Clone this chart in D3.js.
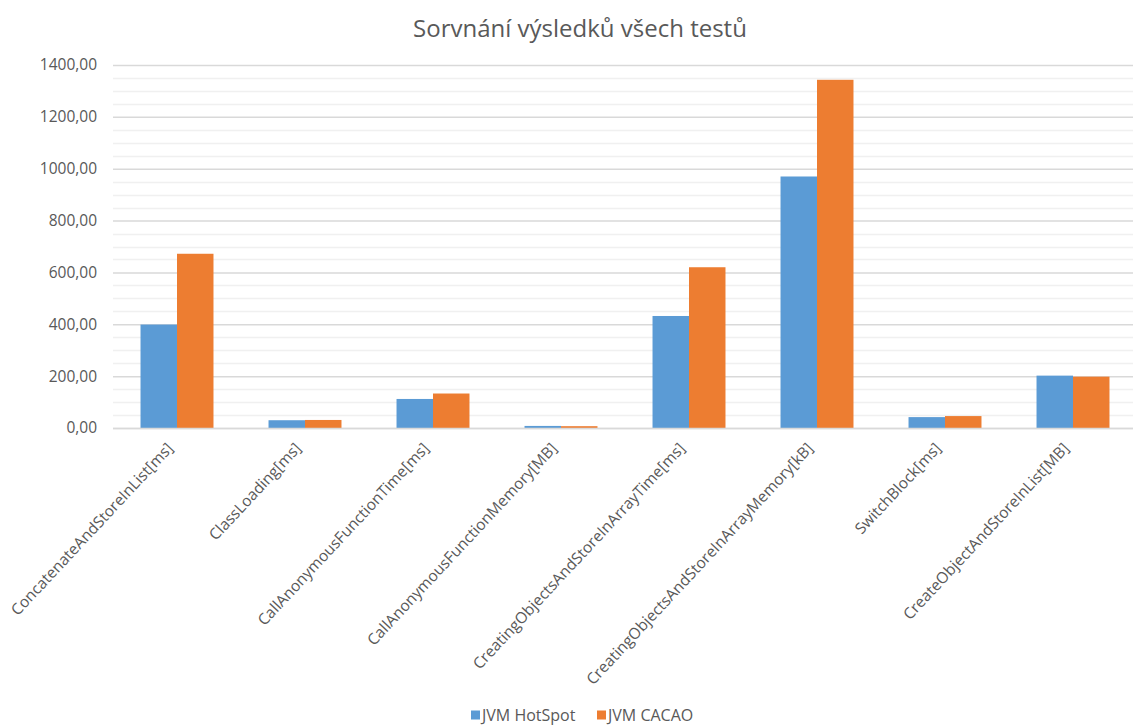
<!DOCTYPE html>
<html><head><meta charset="utf-8">
<script src="https://cdn.jsdelivr.net/npm/d3@7"></script>
<style>body{margin:0;background:#fff;} svg{display:block;}</style>
</head><body>
<svg id="c" width="1133" height="727"></svg>
<script>
const categories = [
  "ConcatenateAndStoreInList[ms]",
  "ClassLoading[ms]",
  "CallAnonymousFunctionTime[ms]",
  "CallAnonymousFunctionMemory[MB]",
  "CreatingObjectsAndStoreInArrayTime[ms]",
  "CreatingObjectsAndStoreInArrayMemory[kB]",
  "SwitchBlock[ms]",
  "CreateObjectAndStoreInList[MB]"
];
const seriesNames = ["JVM HotSpot", "JVM CACAO"];
const hotspot = [399, 30, 112, 8, 432, 970, 42, 202];
const cacao   = [672, 31, 133, 7, 620, 1343, 46, 198];
const yTicks = [0, 200, 400, 600, 800, 1000, 1200, 1400];
const colors = ["#5b9bd5", "#ed7d31"];
const title = "Sorvnání výsledků všech testů";

(function(){
const svg = d3.select("#c");
const font = "'Open Sans', 'Liberation Sans', sans-serif";
const pLeft = 113, pRight = 1137, pTop = 65, pBottom = 428;

const x = d3.scaleBand().domain(categories).range([pLeft, pRight]);
const y = d3.scaleLinear().domain([0, 1400]).range([pBottom, pTop]);
const barW = x.bandwidth() * 0.285;

// minor gridlines
const minor = d3.range(50, 1400, 50).filter(v => v % 200 !== 0);
svg.append("g").selectAll("line").data(minor).join("line")
  .attr("x1", pLeft).attr("x2", pRight)
  .attr("y1", d => Math.round(y(d)) + 0.5).attr("y2", d => Math.round(y(d)) + 0.5)
  .attr("stroke", "#f0f0f0").attr("stroke-width", 1.5);

// major gridlines via axis
const yAxis = d3.axisLeft(y).tickValues(yTicks).tickSize(-(pRight - pLeft))
  .tickFormat(d => d3.format(".2f")(d).replace(".", ","));
const gy = svg.append("g").attr("transform", `translate(${pLeft},0)`).call(yAxis);
gy.select(".domain").remove();
gy.selectAll(".tick line").attr("stroke", "#d9d9d9").attr("stroke-width", 1.5);
gy.selectAll(".tick text").attr("x", -16).attr("fill", "#595959")
  .style("font-family", font).style("font-size", "15.5px");

// bars
const g = svg.append("g");
categories.forEach((c, i) => {
  const cx = x(c) + x.bandwidth() / 2;
  [hotspot[i], cacao[i]].forEach((v, j) => {
    g.append("rect")
      .attr("x", cx - barW + j * barW)
      .attr("y", y(v))
      .attr("width", barW)
      .attr("height", y(0) - y(v))
      .attr("fill", colors[j]);
  });
});

// x axis
const xAxis = d3.axisBottom(x).tickSize(0).tickPadding(0);
const gx = svg.append("g").attr("transform", `translate(0,${pBottom})`).call(xAxis);
gx.select(".domain").attr("stroke", "#d9d9d9").attr("stroke-width", 1.5)
  .attr("d", `M${pLeft},0.5H${pRight}`);
gx.selectAll(".tick text")
  .attr("text-anchor", "end")
  .attr("fill", "#595959")
  .style("font-family", font).style("font-size", "15.5px")
  .attr("y", 0).attr("dy", "0")
  .attr("transform", "translate(-3,21) rotate(-47)");

// title
svg.append("text").attr("x", 580).attr("y", 37).attr("text-anchor", "middle")
  .attr("fill", "#595959").style("font-family", font).style("font-size", "24px")
  .text(title);

// legend
const lg = svg.append("g").attr("transform", "translate(471,715)");
const lx = [0, 126];
seriesNames.forEach((n, i) => {
  lg.append("rect").attr("x", lx[i]).attr("y", -4.5).attr("width", 9).attr("height", 9).attr("fill", colors[i]);
  lg.append("text").attr("x", lx[i] + 11).attr("y", 0).attr("dy", "0.35em").attr("fill", "#595959")
    .style("font-family", font).style("font-size", "16px").text(n);
});
})();
</script>
</body></html>
